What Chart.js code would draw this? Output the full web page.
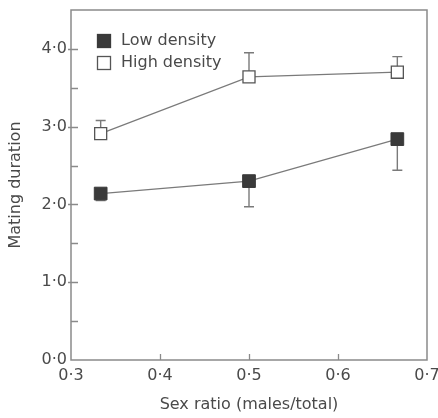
<!DOCTYPE html>
<html>
<head>
<meta charset="utf-8">
<script src="https://cdn.jsdelivr.net/npm/chart.js@4/dist/chart.umd.min.js"></script>
<style>
html,body{margin:0;padding:0;background:#fff;}
#wrap{width:438px;height:418px;}
</style>
</head>
<body>
<div id="wrap"><canvas id="c" width="438" height="418"></canvas></div>
<script>
// ---- data ----
const sexRatio = [1/3, 0.5, 2/3];
const lowDensity = [2.14, 2.30, 2.84];
const lowDensityErrDown = [0.09, 0.33, 0.40];
const highDensity = [2.91, 3.64, 3.70];
const highDensityErrUp = [0.17, 0.31, 0.20];
const seriesLabels = ['Low density', 'High density'];
const xTicks = [0.3, 0.4, 0.5, 0.6, 0.7];
const yTicks = [0, 1, 2, 3, 4];
const xTitle = 'Sex ratio (males/total)';
const yTitle = 'Mating duration';

const FONT = '"DejaVu Sans", sans-serif';
const TXT = '#4a4a4a';
const AX = '#8a8a8a';
const fmt = v => v.toFixed(1).replace('.', '\u00b7');

const pts = ys => sexRatio.map((x, i) => ({x, y: ys[i]}));

const errorBars = {
  id: 'errorBars',
  beforeDatasetsDraw(chart) {
    const {ctx, scales: {x, y}} = chart;
    ctx.save();
    ctx.strokeStyle = '#7a7a7a';
    ctx.lineWidth = 1.4;
    const draw = (xs, vals, errs, dir) => {
      xs.forEach((xv, i) => {
        const px = x.getPixelForValue(xv);
        const p0 = y.getPixelForValue(vals[i]);
        const p1 = y.getPixelForValue(vals[i] + dir * errs[i]);
        ctx.beginPath();
        ctx.moveTo(px, p0); ctx.lineTo(px, p1);
        ctx.moveTo(px - 5, p1); ctx.lineTo(px + 5, p1);
        ctx.stroke();
      });
    };
    draw(sexRatio, lowDensity, lowDensityErrDown, -1);
    draw(sexRatio, highDensity, highDensityErrUp, 1);
    ctx.restore();
  }
};

const frame = {
  id: 'frame',
  afterDraw(chart) {
    const {ctx, chartArea: a, scales: {x, y}} = chart;
    ctx.save();
    ctx.strokeStyle = AX;
    ctx.lineWidth = 1.5;
    ctx.strokeRect(a.left, a.top, a.right - a.left, a.bottom - a.top);
    ctx.lineWidth = 1.3;
    ctx.beginPath();
    y.ticks.forEach(t => {
      if (t.value <= y.min || t.value >= y.max) return;
      const py = Math.round(y.getPixelForValue(t.value)) + 0.5;
      const major = Number.isInteger(t.value);
      ctx.moveTo(a.left - (major ? 3 : 0), py);
      ctx.lineTo(a.left + 7, py);
    });
    x.ticks.forEach(t => {
      if (t.value <= x.min + 1e-9 || t.value >= x.max - 1e-9) return;
      const px = Math.round(x.getPixelForValue(t.value)) + 0.5;
      ctx.moveTo(px, a.bottom);
      ctx.lineTo(px, a.bottom - 6);
    });
    ctx.stroke();
    ctx.restore();
  }
};

const legendInside = {
  id: 'legendInside',
  afterDraw(chart) {
    const {ctx} = chart;
    ctx.save();
    ctx.font = '16px ' + FONT;
    ctx.textBaseline = 'middle';
    ctx.fillStyle = TXT;
    const rows = [41, 63];
    chart.data.datasets.forEach((ds, i) => {
      const cy = rows[i];
      ctx.fillStyle = ds.pointBackgroundColor;
      ctx.fillRect(97.5, cy - 6.5, 13, 13);
      ctx.strokeStyle = ds.pointBorderColor;
      ctx.lineWidth = 1.3;
      ctx.strokeRect(97.5, cy - 6.5, 13, 13);
      ctx.fillStyle = TXT;
      ctx.fillText(ds.label, 121, cy);
    });
    ctx.restore();
  }
};

new Chart(document.getElementById('c'), {
  type: 'line',
  data: {
    datasets: [
      {
        label: seriesLabels[0],
        data: pts(lowDensity),
        borderColor: '#7a7a7a',
        borderWidth: 1.2,
        pointStyle: 'rect',
        pointRadius: 9,
        pointBackgroundColor: '#3a3a3a',
        pointBorderColor: '#3a3a3a',
        pointBorderWidth: 1
      },
      {
        label: seriesLabels[1],
        data: pts(highDensity),
        borderColor: '#7a7a7a',
        borderWidth: 1.2,
        pointStyle: 'rect',
        pointRadius: 8.5,
        pointBackgroundColor: '#ffffff',
        pointBorderColor: '#555555',
        pointBorderWidth: 1.3
      }
    ]
  },
  options: {
    responsive: false,
    animation: false,
    events: [],
    layout: {padding: {left: 0, right: 11, top: 9, bottom: 0}},
    plugins: {legend: {display: false}, tooltip: {enabled: false}},
    scales: {
      x: {
        type: 'linear',
        min: xTicks[0],
        max: xTicks[xTicks.length - 1],
        grid: {display: false, drawTicks: false},
        border: {display: false},
        afterBuildTicks: s => { s.ticks = xTicks.map(v => ({value: v})); },
        ticks: {
          padding: 6,
          maxRotation: 0,
          autoSkip: false,
          color: TXT,
          font: {family: FONT, size: 16},
          callback: v => fmt(v)
        },
        title: {display: true, text: xTitle, color: TXT, font: {family: FONT, size: 16}, padding: {top: 0, bottom: 4}},
        afterFit: s => { s.height = 58; s.paddingLeft = 0; s.paddingRight = 0; }
      },
      y: {
        type: 'linear',
        min: 0,
        max: 4.5,
        grid: {display: false, drawTicks: false},
        border: {display: false},
        afterBuildTicks: s => {
          const t = [];
          for (let v = 0; v <= 4.5 + 1e-9; v += 0.5) t.push({value: Math.round(v * 10) / 10});
          s.ticks = t;
        },
        ticks: {
          padding: 4,
          autoSkip: false,
          color: TXT,
          font: {family: FONT, size: 16},
          callback: v => yTicks.includes(v) ? fmt(v) : ''
        },
        title: {display: true, text: yTitle, color: TXT, font: {family: FONT, size: 16}, padding: {top: 6, bottom: 0}},
        afterFit: s => { s.width = 71; s.paddingTop = 0; s.paddingBottom = 0; }
      }
    }
  },
  plugins: [errorBars, frame, legendInside]
});
</script>
</body>
</html>
